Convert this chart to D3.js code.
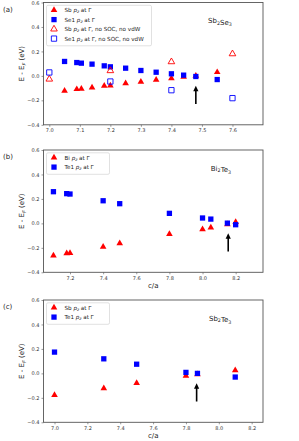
<!DOCTYPE html>
<html>
<head>
<meta charset="utf-8">
<script src="https://cdn.jsdelivr.net/npm/d3@7"></script>
<style>
  body { margin: 0; background: #fff; }
  svg { display: block; font-family: "DejaVu Sans", sans-serif; }
</style>
</head>
<body>
<div id="chart"></div>
<script>
// ---- data ----
// (a) Sb2Se3
const caA = [7.05, 7.09, 7.105, 7.14, 7.18, 7.2, 7.25, 7.3, 7.35, 7.4, 7.44, 7.48, 7.55];
const sbPzA = [-0.122, -0.109, -0.106, -0.095, -0.081, -0.079, -0.06, -0.048, -0.032, -0.021, -0.008, 0.0, 0.03];
const se1PzA = [0.118, 0.109, 0.104, 0.096, 0.082, 0.074, 0.063, 0.044, 0.03, 0.017, 0.006, -0.005, -0.03];
const caANoSoc = [7.0, 7.2, 7.4, 7.6];
const sbPzANoSoc = [-0.027, 0.042, 0.115, 0.18];
const se1PzANoSoc = [0.028, -0.046, -0.117, -0.182];
// (b) Bi2Te3
const caB = [7.1, 7.18, 7.2, 7.4, 7.5, 7.8, 8.0, 8.05, 8.15, 8.2];
const biPzB = [-0.264, -0.245, -0.242, -0.191, -0.163, -0.087, -0.049, -0.035, -0.008, 0.011];
const te1PzB = [0.259, 0.243, 0.240, 0.185, 0.161, 0.082, 0.044, 0.035, 0.002, -0.011];
// (c) Sb2Te3
const caC = [7.0, 7.3, 7.5, 7.8, 7.87, 8.1];
const sbPzC = [-0.177, -0.123, -0.08, -0.02, -0.008, 0.025];
const te1PzC = [0.174, 0.119, 0.075, 0.008, 0.0, -0.03];

const xTicksA = [7.0, 7.1, 7.2, 7.3, 7.4, 7.5, 7.6];
const xTicksBC = [7.0, 7.2, 7.4, 7.6, 7.8, 8.0, 8.2];
const yTicks = [-0.4, -0.2, 0.0, 0.2, 0.4, 0.6];
const arrowCa = [7.48, 8.155, 7.865];   // experimental c/a marked by arrows
const arrowE = [-0.23, -0.08];

const W = 299, H = 441;
const left = 43.5, right = 263, ph = 122.3;

const svg = d3.select("#chart").append("svg")
  .attr("width", W).attr("height", H);

// triangle / square symbols
const tri = d3.symbol().type(d3.symbolTriangle).size(19);
const sq = d3.symbol().type(d3.symbolSquare).size(28);

function drawPanel(cfg) {
  const g = svg.append("g").attr("transform", "translate(0," + cfg.top + ")");

  const x = d3.scaleLinear().domain(cfg.xdom).range([left, right]);
  const y = d3.scaleLinear().domain([-0.4, 0.6]).range([ph, 0]);

  // axes
  const xa = g.append("g")
    .attr("transform", "translate(0," + ph + ")")
    .call(d3.axisBottom(x).tickValues(cfg.xticks).tickSize(2).tickPadding(2).tickFormat(d3.format(".1f")));
  const ya = g.append("g")
    .attr("transform", "translate(" + left + ",0)")
    .call(d3.axisLeft(y).tickValues(yTicks).tickSize(2).tickPadding(2).tickFormat(d3.format(".1f")));
  [xa, ya].forEach(a => {
    a.select(".domain").remove();
    a.selectAll("text").attr("font-size", 5).attr("fill", "#333").attr("font-family", "DejaVu Sans");
    a.selectAll("line").attr("stroke", "#555").attr("stroke-width", 0.6);
  });

  // frame
  g.append("rect")
    .attr("x", left).attr("y", 0)
    .attr("width", right - left).attr("height", ph)
    .attr("fill", "none").attr("stroke", "#555").attr("stroke-width", 0.9);

  // series
  cfg.series.forEach(s => {
    g.append("g").selectAll("path")
      .data(s.xs.map((v, i) => [v, s.ys[i]]))
      .enter().append("path")
        .attr("d", s.shape === "tri" ? tri : sq)
        .attr("transform", d => "translate(" + x(d[0]) + "," + y(d[1]) + ")")
        .attr("fill", s.open ? "none" : s.color)
        .attr("stroke", s.open ? s.color : "none")
        .attr("stroke-width", 0.9);
  });

  // arrow
  const ax = x(cfg.arrow), y0 = y(arrowE[0]), y1 = y(arrowE[1]);
  g.append("line")
    .attr("x1", ax).attr("x2", ax).attr("y1", y0).attr("y2", y1 + 4)
    .attr("stroke", "black").attr("stroke-width", 1.6);
  g.append("path")
    .attr("d", "M" + ax + "," + y1 + "L" + (ax - 2.6) + "," + (y1 + 5.5) + "L" + (ax + 2.6) + "," + (y1 + 5.5) + "Z")
    .attr("fill", "black");

  // compound label
  const t = g.append("text")
    .attr("x", x(cfg.formulaX)).attr("y", y(0.432))
    .attr("font-size", 7).attr("fill", "#222");
  cfg.formula.forEach(p => {
    if (p.sub) {
      t.append("tspan").attr("font-size", 4.8).attr("dy", 1.6).text(p.t);
      t.append("tspan").attr("dy", -1.6).text("");
    } else {
      t.append("tspan").text(p.t);
    }
  });

  // panel letter
  g.append("text").attr("x", 3).attr("y", 9).attr("font-size", 7).attr("fill", "#222").text(cfg.letter);

  // y label
  const yl = g.append("text")
    .attr("transform", "translate(24," + (ph / 2) + ") rotate(-90)")
    .attr("text-anchor", "middle").attr("font-size", 7).attr("fill", "#222");
  yl.append("tspan").text("E - E");
  yl.append("tspan").attr("font-size", 5).attr("font-style", "italic").attr("dy", 1.5).text("F");
  yl.append("tspan").attr("dy", -1.5).text(" (eV)");

  // x label
  if (cfg.xlabel) {
    g.append("text").attr("x", (left + right) / 2).attr("y", ph + 16)
      .attr("text-anchor", "middle").attr("font-size", 7).attr("fill", "#222").text("c/a");
  }

  // legend
  const rowH = 9.5;
  const lg = g.append("g");
  lg.append("rect")
    .attr("x", 46.5).attr("y", 2.8)
    .attr("width", cfg.legendW).attr("height", cfg.series.length * rowH + 2.5)
    .attr("rx", 1.5)
    .attr("fill", "white").attr("fill-opacity", 0.85)
    .attr("stroke", "#d4d4d4").attr("stroke-width", 0.7);
  cfg.series.forEach((s, i) => {
    const ry = 7.6 + i * rowH;
    lg.append("path")
      .attr("d", s.shape === "tri" ? tri : sq)
      .attr("transform", "translate(54," + ry + ")")
      .attr("fill", s.open ? "none" : s.color)
      .attr("stroke", s.open ? s.color : "none")
      .attr("stroke-width", 0.9);
    const lt = lg.append("text").attr("x", 64.5).attr("y", ry + 2)
      .attr("font-size", 5.6).attr("fill", "#222");
    lt.append("tspan").text(s.atom + " ");
    lt.append("tspan").attr("font-style", "italic").text("p");
    lt.append("tspan").attr("font-size", 4).attr("font-style", "italic").attr("dy", 1.2).text("z");
    lt.append("tspan").attr("dy", -1.2).text(" at \u0393" + (s.open ? ", no SOC, no vdW" : ""));
  });
}

drawPanel({
  top: 2.5, letter: "(a)", xdom: [6.981, 7.70], xticks: xTicksA, arrow: arrowCa[0],
  formula: [{t: "Sb"}, {t: "2", sub: true}, {t: "Se"}, {t: "3", sub: true}], formulaX: 7.52,
  xlabel: false, legendW: 105,
  series: [
    {atom: "Sb", xs: caA, ys: sbPzA, shape: "tri", color: "red", open: false},
    {atom: "Se1", xs: caA, ys: se1PzA, shape: "sq", color: "blue", open: false},
    {atom: "Sb", xs: caANoSoc, ys: sbPzANoSoc, shape: "tri", color: "red", open: true},
    {atom: "Se1", xs: caANoSoc, ys: se1PzANoSoc, shape: "sq", color: "blue", open: true}
  ]
});

drawPanel({
  top: 150, letter: "(b)", xdom: [7.04, 8.365], xticks: xTicksBC.slice(1), arrow: arrowCa[1],
  formula: [{t: "Bi"}, {t: "2", sub: true}, {t: "Te"}, {t: "3", sub: true}], formulaX: 8.05,
  xlabel: true, legendW: 63,
  series: [
    {atom: "Bi", xs: caB, ys: biPzB, shape: "tri", color: "red", open: false},
    {atom: "Te1", xs: caB, ys: te1PzB, shape: "sq", color: "blue", open: false}
  ]
});

drawPanel({
  top: 300, letter: "(c)", xdom: [6.933, 8.269], xticks: xTicksBC, arrow: arrowCa[2],
  formula: [{t: "Sb"}, {t: "2", sub: true}, {t: "Te"}, {t: "3", sub: true}], formulaX: 7.94,
  xlabel: true, legendW: 63,
  series: [
    {atom: "Sb", xs: caC, ys: sbPzC, shape: "tri", color: "red", open: false},
    {atom: "Te1", xs: caC, ys: te1PzC, shape: "sq", color: "blue", open: false}
  ]
});
</script>
</body>
</html>
